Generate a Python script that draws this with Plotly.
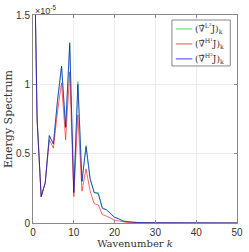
import plotly.graph_objects as go

SCALE = 1e-5
k = list(range(0, 51))
tail = [0.004, 0.003, 0.002, 0.002, 0.0015, 0.001, 0.001, 0.001, 0.0008, 0.0008,
        0.0006, 0.0006, 0.0005, 0.0005, 0.0004, 0.0004, 0.0003, 0.0003, 0.0003, 0.0002,
        0.0002, 0.0002, 0.0002, 0.0001, 0.0001, 0.0001]
e_L2 = [2.6, 0.75, 0.19, 0.29, 0.63, 0.57, 0.88, 1.13, 0.69, 1.28, 0.22, 1.02, 0.30,
        0.56, 0.32, 0.22, 0.22, 0.11, 0.097, 0.066, 0.042, 0.031, 0.016, 0.011, 0.006] + tail
e_H1 = [2.6, 0.75, 0.19, 0.29, 0.60, 0.54, 0.80, 1.01, 0.60, 1.09, 0.19, 0.78, 0.23,
        0.39, 0.23, 0.14, 0.13, 0.06, 0.05, 0.035, 0.02, 0.015, 0.008, 0.004, 0.003] + tail
e_H2 = [2.6, 0.75, 0.19, 0.29, 0.63, 0.57, 0.88, 1.13, 0.69, 1.30, 0.22, 1.00, 0.30,
        0.55, 0.32, 0.22, 0.21, 0.105, 0.095, 0.065, 0.04, 0.03, 0.015, 0.01, 0.006] + tail

names = ["(∇\u0302<sup>L²</sup>J)<sub>k</sub>",
         "(∇\u0302<sup>H¹</sup>J)<sub>k</sub>",
         "(∇\u0302<sup>H²</sup>J)<sub>k</sub>"]
colors = ["rgba(0,210,0,0.6)", "rgba(255,0,0,0.6)", "rgba(0,0,255,0.65)"]

fig = go.Figure()
for ser, nm, c in zip([e_L2, e_H1, e_H2], names, colors):
    fig.add_trace(go.Scatter(x=k, y=[v * SCALE for v in ser], mode="lines", name=nm,
                             line=dict(color=c, width=1), showlegend=False))

# custom compact legend (box, line samples, labels)
fig.add_shape(type="rect", xref="paper", yref="paper", x0=0.681, x1=0.967, y0=0.755, y1=0.976,
              line=dict(color="#888", width=1), fillcolor="white", layer="above")
leg_y = [0.933, 0.861, 0.789]
for nm, c, yy in zip(names, colors, leg_y):
    fig.add_shape(type="line", xref="paper", yref="paper", x0=0.700, x1=0.781, y0=yy, y1=yy,
                  line=dict(color=c, width=1.2), layer="above")
    fig.add_annotation(x=0.786, y=yy, xref="paper", yref="paper", xanchor="left", yanchor="middle",
                       text=nm, showarrow=False,
                       font=dict(family="DejaVu Serif", size=9, color="#333"))

yt = [0, 0.5, 1, 1.5]
fig.update_layout(
    width=249, height=252,
    margin=dict(l=33, r=6, t=15, b=29),
    plot_bgcolor="white", paper_bgcolor="white",
    showlegend=False,
    font=dict(family="Liberation Sans", size=10, color="#333"),
)
fig.update_xaxes(range=[0, 50], tickvals=[0, 10, 20, 30, 40, 50],
                 showgrid=True, gridcolor="#ececec", gridwidth=1,
                 showline=True, linecolor="#888", linewidth=1, mirror="allticks",
                 ticks="inside", ticklen=3, tickcolor="#888", zeroline=False,
                 tickfont=dict(size=10, color="#333"),
                 title=dict(text="Wavenumber <i>k</i>", standoff=0,
                            font=dict(family="DejaVu Serif", size=10, color="#333")))
fig.update_yaxes(range=[0, 1.5 * SCALE], tickvals=[v * SCALE for v in yt],
                 ticktext=["0", "0.5", "1", "1.5"],
                 showgrid=True, gridcolor="#ececec", gridwidth=1,
                 showline=True, linecolor="#888", linewidth=1, mirror="allticks",
                 ticks="inside", ticklen=3, tickcolor="#888", zeroline=False,
                 tickfont=dict(size=10, color="#333"),
                 title=dict(text="Energy Spectrum", standoff=1,
                            font=dict(family="DejaVu Serif", size=11, color="#333")))
fig.add_annotation(x=0, y=1, xref="paper", yref="paper", xanchor="left", yanchor="bottom",
                   text="×10<sup>-5</sup>", showarrow=False, yshift=-3,
                   font=dict(family="Liberation Sans", size=9, color="#333"))
fig.write_html("out.html", config={"displayModeBar": False},
               post_script="document.body.style.margin='0';document.body.style.overflow='hidden';")
